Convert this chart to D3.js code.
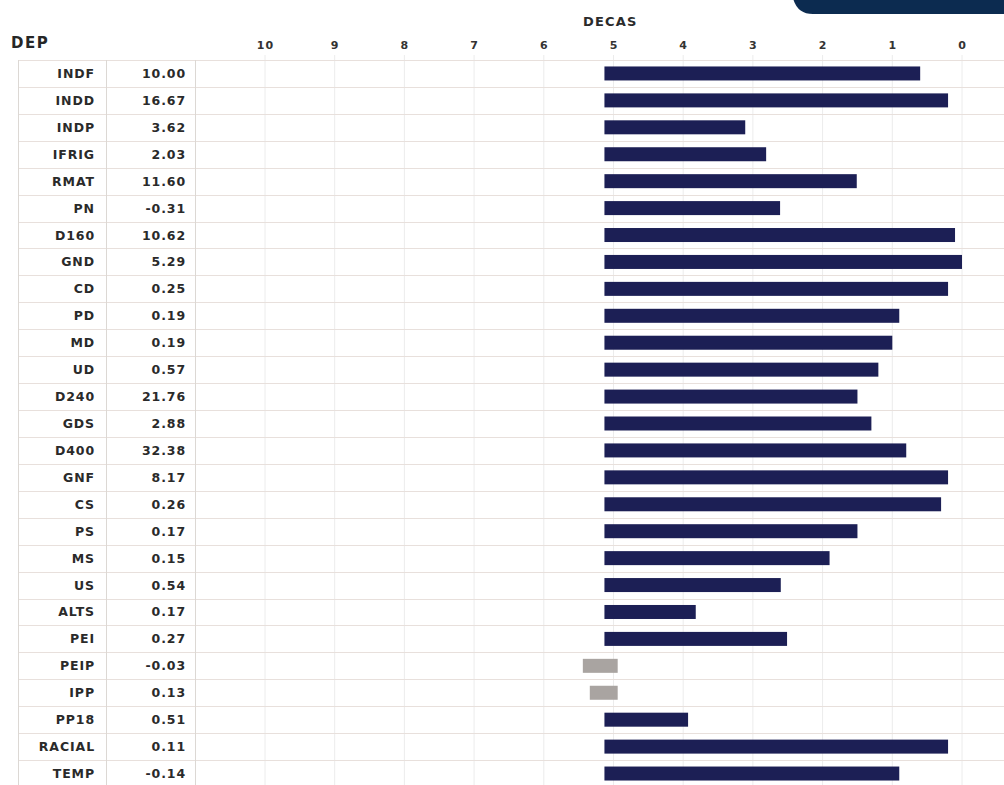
<!DOCTYPE html>
<html><head><meta charset="utf-8">
<script src="https://cdn.jsdelivr.net/npm/d3@7"></script>
<style>body{margin:0;background:#fff;}svg{display:block;font-family:"DejaVu Sans",sans-serif;}</style>
</head><body>
<script>
const categories = ["INDF","INDD","INDP","IFRIG","RMAT","PN","D160","GND","CD","PD","MD","UD","D240","GDS","D400","GNF","CS","PS","MS","US","ALTS","PEI","PEIP","IPP","PP18","RACIAL","TEMP"];
const depValues = ["10.00","16.67","3.62","2.03","11.60","-0.31","10.62","5.29","0.25","0.19","0.19","0.57","21.76","2.88","32.38","8.17","0.26","0.17","0.15","0.54","0.17","0.27","-0.03","0.13","0.51","0.11","-0.14"];
const decaStart = [5.13,5.13,5.13,5.13,5.13,5.13,5.13,5.13,5.13,5.13,5.13,5.13,5.13,5.13,5.13,5.13,5.13,5.13,5.13,5.13,5.13,5.13,5.44,5.34,5.13,5.13,5.13];
const decaEnd = [0.6,0.2,3.11,2.81,1.51,2.61,0.1,0.0,0.2,0.9,1.0,1.2,1.5,1.3,0.8,0.2,0.3,1.5,1.9,2.6,3.82,2.51,4.94,4.94,3.93,0.2,0.9];
const barKind = ["main","main","main","main","main","main","main","main","main","main","main","main","main","main","main","main","main","main","main","main","main","main","grey","grey","main","main","main"];
const tickValues = [10,9,8,7,6,5,4,3,2,1,0];

const W=1004,H=785;
const svg=d3.select("body").append("svg").attr("width",W).attr("height",H);

// top-right navy tab
svg.append("path").attr("fill","#0c2b50")
  .attr("d",`M793,-2 L1004,-2 L1004,14 L813,14 Q797,14 793,-2 Z`);

const x=d3.scaleLinear().domain([10,0]).range([265,962]);
const y=d3.scaleBand().domain(categories).range([60,787]).paddingInner(0).paddingOuter(0);

// vertical gridlines
svg.append("g").selectAll("line").data(tickValues).join("line")
  .attr("x1",d=>x(d)).attr("x2",d=>x(d)).attr("y1",55).attr("y2",H)
  .attr("stroke","#ececec").attr("stroke-width",1);

// row lines
const rowEdges = categories.map(c=>y(c)).concat([y.range()[1]]);
svg.append("g").selectAll("line").data(rowEdges).join("line")
  .attr("x1",18).attr("x2",W).attr("y1",d=>Math.round(d)+0.5).attr("y2",d=>Math.round(d)+0.5)
  .attr("stroke","#e8e0dc").attr("stroke-width",1);

// table vertical borders
[18,106,195].forEach(xx=>{
  svg.append("line").attr("x1",xx+0.5).attr("x2",xx+0.5).attr("y1",60).attr("y2",H)
    .attr("stroke","#dcd8d4");
});

// header
svg.append("text").attr("x",11).attr("y",48).text("DEP")
  .attr("font-size",15).attr("font-weight","bold").attr("letter-spacing",1.5).attr("fill","#262626");
svg.append("text").attr("x",583).attr("y",26).text("DECAS")
  .attr("font-size",13).attr("font-weight","bold").attr("letter-spacing",1.2).attr("fill","#2b2b2b");

// axis labels
const axis=d3.axisTop(x).tickValues(tickValues).tickSize(0).tickPadding(0).tickFormat(d3.format("d"));
const ag=svg.append("g").attr("transform","translate(0,49)").call(axis);
ag.select(".domain").remove();
ag.selectAll("text").attr("font-size",11).attr("font-weight","bold").attr("fill","#333")
  .attr("letter-spacing",1).attr("font-family","DejaVu Sans, sans-serif");

// table labels
const rows=svg.append("g");
rows.selectAll("text.cat").data(categories).join("text").attr("class","cat")
  .attr("x",95).attr("y",d=>y(d)+y.bandwidth()/2).attr("dy","0.36em")
  .attr("text-anchor","end").attr("font-size",12.5).attr("font-weight","bold").attr("letter-spacing",0.9).attr("fill","#2a2a2a")
  .text(d=>d);
rows.selectAll("text.val").data(depValues).join("text").attr("class","val")
  .attr("x",186).attr("y",(d,i)=>y(categories[i])+y.bandwidth()/2).attr("dy","0.36em")
  .attr("text-anchor","end").attr("font-size",12.5).attr("font-weight","bold").attr("letter-spacing",0.9).attr("fill","#2a2a2a")
  .text(d=>d);

// bars
const bh=14;
svg.append("g").selectAll("rect").data(categories).join("rect")
  .attr("x",(d,i)=>Math.min(x(decaStart[i]),x(decaEnd[i])))
  .attr("width",(d,i)=>Math.abs(x(decaEnd[i])-x(decaStart[i])))
  .attr("y",d=>y(d)+(y.bandwidth()-bh)/2)
  .attr("height",bh)
  .attr("fill",(d,i)=>barKind[i]==="grey"?"#a9a4a1":"#1c1f55");
</script>
</body></html>
